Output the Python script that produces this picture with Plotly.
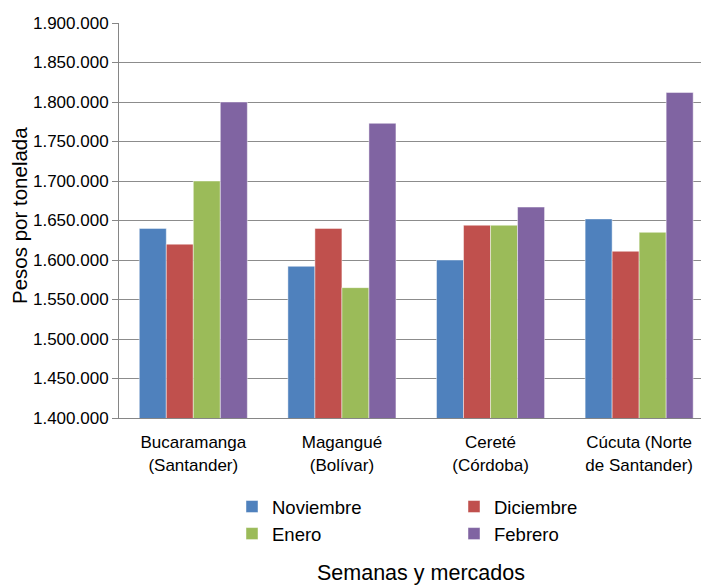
import plotly.graph_objects as go

categories = ["Bucaramanga<br>(Santander)", "Magangué<br>(Bolívar)", "Cereté<br>(Córdoba)", "Cúcuta (Norte<br>de Santander)"]
series_names = ["Noviembre", "Diciembre", "Enero", "Febrero"]
noviembre = [1640000, 1592000, 1600000, 1652000]
diciembre = [1620000, 1640000, 1644000, 1611000]
enero = [1700000, 1565000, 1644000, 1635000]
febrero = [1800000, 1773000, 1667000, 1812000]
colors = ["#4F81BD", "#C0504D", "#9BBB59", "#8064A2"]
y_ticks = list(range(1400000, 1900001, 50000))

# The page body has an 8px margin, so the figure is drawn 8px in from the window corner.
OFF = 8
W, H = 709 - OFF, 586 - OFF
FONT = "Liberation Sans, Arial, sans-serif"

L, T, B = 119 - OFF, 23 - OFF, H - (418 - OFF)
PLOT_W, PLOT_H = W - L, H - T - B

fig = go.Figure()
for name, vals, col in zip(series_names, [noviembre, diciembre, enero, febrero], colors):
    fig.add_trace(go.Bar(
        name=name, x=list(range(len(categories))), y=vals,
        marker=dict(color=col, line=dict(color="rgba(255,255,255,0.45)", width=1)),
    ))

fig.update_layout(
    width=W, height=H,
    barmode="group", bargap=0.273, bargroupgap=0,
    separators=",.",
    paper_bgcolor="white", plot_bgcolor="white",
    margin=dict(l=L, r=0, t=T, b=B, pad=0, autoexpand=False),
    font=dict(family=FONT, color="#000000", size=17),
    showlegend=True,
    legend=dict(
        orientation="h", xref="container", yref="container",
        x=(246 - 22) / W, xanchor="left", y=1 - (488 - OFF) / H, yanchor="top",
        entrywidth=177, entrywidthmode="pixels",
        font=dict(family=FONT, size=18.5, color="#000000"),
        itemclick=False, tracegroupgap=0, bgcolor="rgba(0,0,0,0)",
    ),
    xaxis=dict(
        tickmode="array", tickvals=list(range(len(categories))), ticktext=categories,
        range=[-0.5, 3.47], automargin=False,
        showgrid=False, showline=True, linecolor="#868686", linewidth=1,
        ticks="", tickfont=dict(family=FONT, size=17), ticklabelstandoff=9,
        zeroline=False,
    ),
    yaxis=dict(
        range=[1400000, 1900000], tickmode="array", tickvals=y_ticks,
        tickformat=",d", automargin=False,
        showgrid=True, gridcolor="#8C8C8C", gridwidth=1,
        showline=True, linecolor="#868686", linewidth=1,
        ticks="outside", ticklen=6, tickcolor="#868686",
        tickfont=dict(family=FONT, size=17),
        zeroline=False,
    ),
    annotations=[
        dict(
            text="Semanas y mercados", xref="paper", yref="paper",
            x=(421 - OFF - L) / PLOT_W, xanchor="center",
            y=-(573 - 418) / PLOT_H, yanchor="middle",
            showarrow=False, font=dict(family=FONT, size=21.5, color="#000000"),
        ),
        dict(
            text="Pesos por tonelada", xref="paper", yref="paper", textangle=-90,
            x=(20 - OFF - L) / PLOT_W, xanchor="center",
            y=1 - (216 - 23) / PLOT_H, yanchor="middle",
            showarrow=False, font=dict(family=FONT, size=20.5, color="#000000"),
        ),
    ],
)

fig.write_html("out.html")
